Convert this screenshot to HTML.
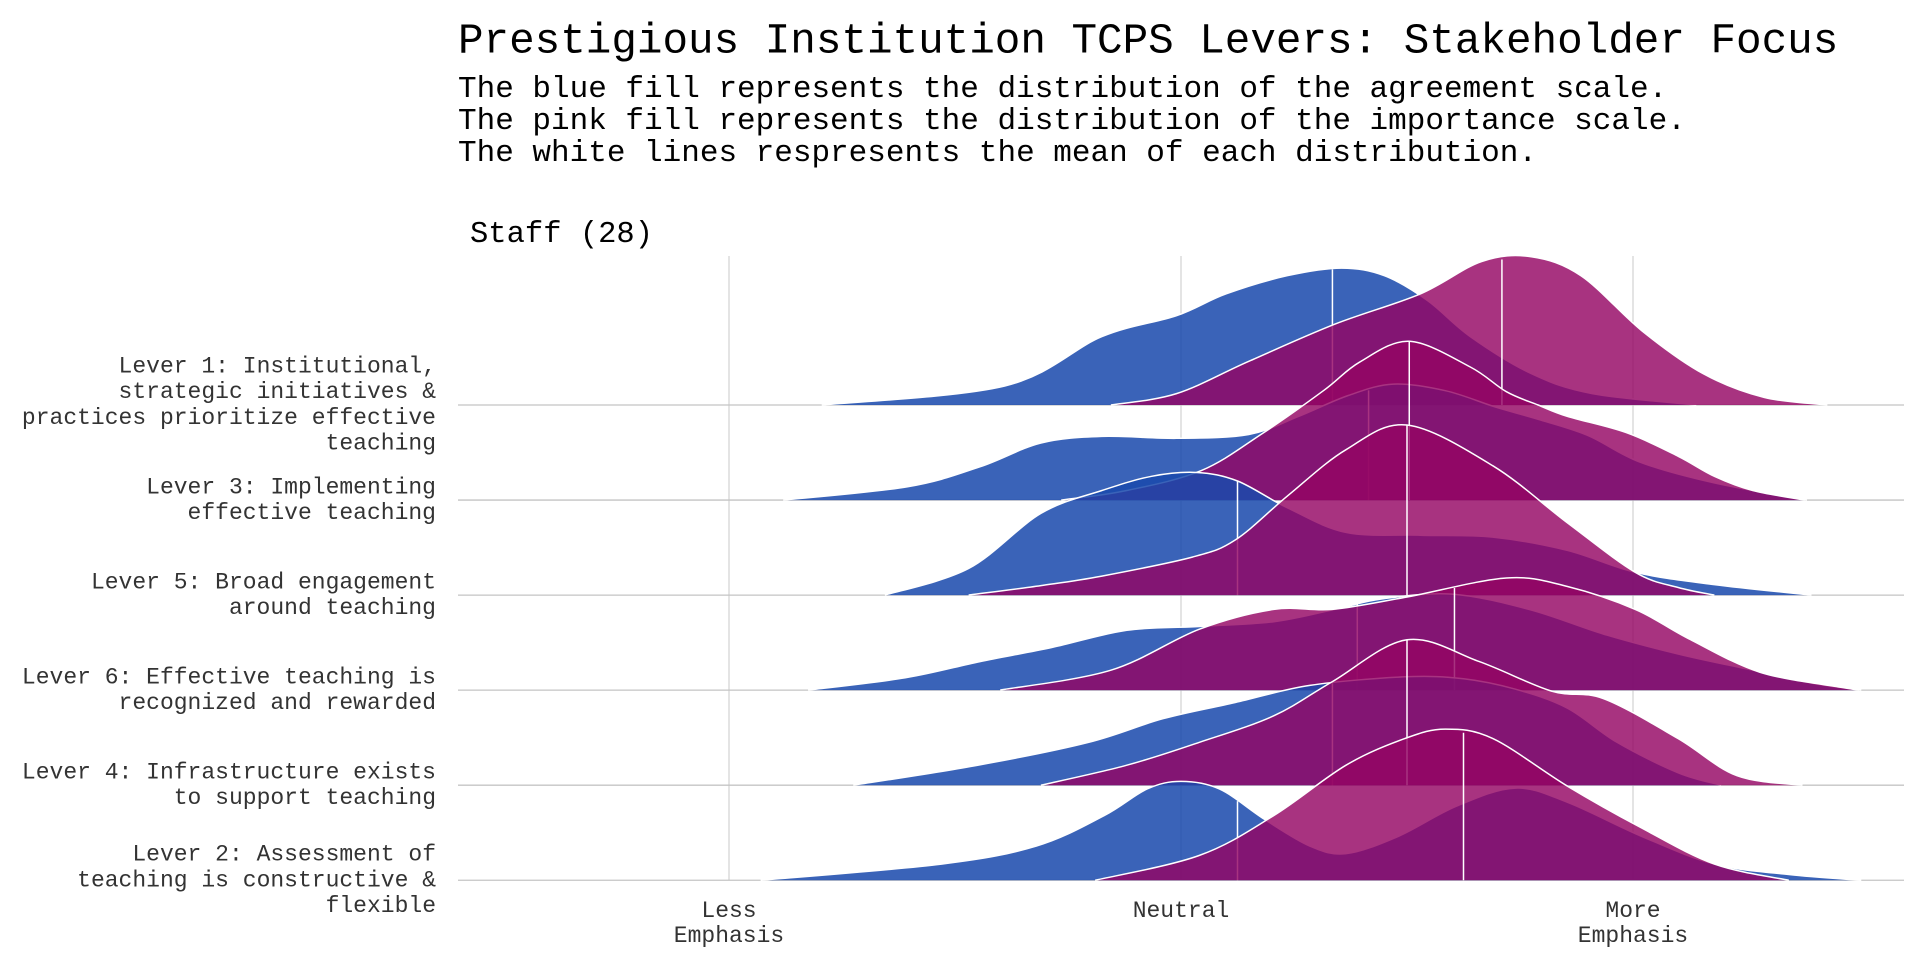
<!DOCTYPE html>
<html><head><meta charset="utf-8">
<style>
html,body{margin:0;padding:0;background:#fff;}
svg{display:block;}
text{font-family:"Liberation Mono","DejaVu Sans Mono",monospace;}
</style></head>
<body>
<svg id="chart" width="1920" height="960" viewBox="0 0 1920 960" xmlns="http://www.w3.org/2000/svg">
<text x="458" y="41" font-size="42.6" fill="#000" dominant-baseline="middle">Prestigious Institution TCPS Levers: Stakeholder Focus</text>
<g font-size="31" fill="#000">
<text x="458" y="89" dominant-baseline="middle">The blue fill represents the distribution of the agreement scale.</text>
<text x="458" y="121" dominant-baseline="middle">The pink fill represents the distribution of the importance scale.</text>
<text x="458" y="153" dominant-baseline="middle">The white lines respresents the mean of each distribution.</text>
</g>
<text x="470" y="234" font-size="30.5" fill="#000" dominant-baseline="middle">Staff (28)</text>
<g id="grid"></g>
<g id="ridges"></g>
<g id="ylabels"></g>
<g id="xlabels"></g>
</svg>
<script>
// Categories (top to bottom)
const levers = [
 ["Lever 1: Institutional,","strategic initiatives &","practices prioritize effective","teaching"],
 ["Lever 3: Implementing","effective teaching"],
 ["Lever 5: Broad engagement","around teaching"],
 ["Lever 6: Effective teaching is","recognized and rewarded"],
 ["Lever 4: Infrastructure exists","to support teaching"],
 ["Lever 2: Assessment of","teaching is constructive &","flexible"]
];
const tickValues = [1, 3, 5];
const tickLabels = [["Less","Emphasis"],["Neutral"],["More","Emphasis"]];

// Agreement (blue) densities: x values and heights
const blueX = [
 [1.41,2.22,2.65,2.98,3.20,3.47,3.71,3.90,4.09,4.28,4.55,4.82,5.28],
 [1.24,1.79,2.11,2.38,2.65,2.98,3.30,3.52,3.74,3.94,4.17,4.39,4.58,4.80,5.03,5.36,5.77],
 [1.69,2.06,2.38,2.65,2.87,3.07,3.25,3.47,3.73,4.06,4.38,4.71,5.01,5.36,5.79],
 [1.35,1.78,2.11,2.43,2.76,3.08,3.41,3.68,3.89,4.20,4.54,4.87,5.20,5.53,5.80,6.01],
 [1.55,2.10,2.59,2.92,3.24,3.57,3.99,4.25,4.48,4.71,4.93,5.20,5.39],
 [1.14,1.94,2.36,2.66,2.85,3.00,3.17,3.37,3.57,3.73,3.96,4.22,4.48,4.71,5.04,5.36,5.69,6.01]
];
const blueY = [
 [0,0.20,0.72,0.94,1.17,1.36,1.44,1.36,1.10,0.72,0.33,0.12,0],
 [0,0.14,0.35,0.60,0.67,0.65,0.69,0.88,1.10,1.22,1.15,0.98,0.85,0.68,0.40,0.18,0],
 [0,0.28,0.86,1.10,1.25,1.29,1.20,0.92,0.66,0.63,0.61,0.47,0.24,0.11,0],
 [0,0.13,0.30,0.45,0.63,0.67,0.72,0.85,0.96,1.01,0.85,0.59,0.38,0.21,0.07,0],
 [0,0.21,0.45,0.70,0.87,1.05,1.14,1.12,1.01,0.81,0.45,0.13,0],
 [0,0.17,0.36,0.68,0.96,1.04,0.96,0.64,0.36,0.28,0.46,0.78,0.97,0.82,0.46,0.17,0.06,0]
];
// Importance (pink) densities
const pinkX = [
 [2.69,2.98,3.30,3.68,4.06,4.33,4.55,4.77,5.04,5.31,5.58,5.86],
 [2.47,2.76,3.09,3.36,3.63,3.79,4.01,4.28,4.44,4.58,4.71,4.97,5.20,5.36,5.53,5.76],
 [2.06,2.38,2.65,3.05,3.24,3.47,3.73,4.00,4.38,4.71,5.01,5.20,5.36],
 [2.20,2.69,3.08,3.41,3.67,4.00,4.44,4.71,5.01,5.24,5.56,5.92,6.00],
 [2.38,2.76,3.08,3.41,3.67,4.00,4.32,4.64,4.87,5.20,5.46,5.75],
 [2.62,3.08,3.41,3.73,3.99,4.17,4.38,4.71,5.03,5.36,5.69]
];
const pinkY = [
 [0,0.12,0.46,0.85,1.17,1.51,1.56,1.36,0.78,0.33,0.08,0],
 [0,0.10,0.31,0.70,1.15,1.45,1.67,1.40,1.14,1.00,0.88,0.71,0.46,0.25,0.10,0],
 [0,0.10,0.20,0.40,0.58,1.04,1.53,1.79,1.36,0.76,0.24,0.08,0],
 [0,0.21,0.64,0.85,0.85,0.98,1.18,1.09,0.85,0.55,0.19,0.03,0],
 [0,0.21,0.45,0.73,1.09,1.53,1.30,0.99,0.91,0.49,0.10,0],
 [0,0.26,0.68,1.21,1.49,1.59,1.49,0.99,0.56,0.17,0]
];
// Means
const blueMean = [3.67, 3.83, 3.25, 3.78, 3.67, 3.25];
const pinkMean = [4.42, 4.01, 4.00, 4.21, 4.00, 4.25];

const NS = "http://www.w3.org/2000/svg";
const X0 = 729, XPER = 226;
const xScale = v => X0 + (v - 1) * XPER;
const BASE0 = 405, STEP = 95.05;
const baseY = i => BASE0 + i * STEP;
const hScale = h => h * STEP;
const PLOT_L = 458, PLOT_R = 1904, PLOT_T = 256;

function mk(tag, attrs, parent) {
  const e = document.createElementNS(NS, tag);
  for (const k in attrs) e.setAttribute(k, attrs[k]);
  parent.appendChild(e);
  return e;
}
function interp(xs, ys, v) {
  if (v <= xs[0]) return ys[0];
  for (let i = 1; i < xs.length; i++) {
    if (v <= xs[i]) {
      const t = (v - xs[i-1]) / (xs[i] - xs[i-1]);
      return ys[i-1] + (ys[i] - ys[i-1]) * t;
    }
  }
  return ys[ys.length-1];
}
function curvePath(xs, ys, b) {
  const pts = xs.map((v, i) => [xScale(v), b - hScale(ys[i])]);
  let d = "M" + pts[0][0].toFixed(1) + "," + pts[0][1].toFixed(1);
  for (let i = 0; i < pts.length - 1; i++) {
    const p0 = pts[Math.max(0, i-1)], p1 = pts[i], p2 = pts[i+1], p3 = pts[Math.min(pts.length-1, i+2)];
    let c1x = p1[0] + (p2[0]-p0[0])/6, c1y = p1[1] + (p2[1]-p0[1])/6;
    let c2x = p2[0] - (p3[0]-p1[0])/6, c2y = p2[1] - (p3[1]-p1[1])/6;
    c1y = Math.min(c1y, b); c2y = Math.min(c2y, b);
    d += " C" + c1x.toFixed(1) + "," + c1y.toFixed(1) + " " + c2x.toFixed(1) + "," + c2y.toFixed(1) + " " + p2[0].toFixed(1) + "," + p2[1].toFixed(1);
  }
  return d;
}

const grid = document.getElementById("grid");
tickValues.forEach((v, i) => {
  const l = mk("line", {x1: xScale(v), x2: xScale(v), y1: PLOT_T, y2: baseY(5), stroke: "#c8c8c8", "stroke-width": 1}, grid);
  
  
});
levers.forEach((lv, i) => {
  const l = mk("line", {x1: PLOT_L, x2: PLOT_R, y1: baseY(i), y2: baseY(i), stroke: "#c4c4c4", "stroke-width": 1.3}, grid);
  
  
});

const ridges = document.getElementById("ridges");
levers.forEach((lv, i) => {
  const b = baseY(i);
  const g = mk("g", {}, ridges);
  
  
  const bc = curvePath(blueX[i], blueY[i], b);
  const bp = mk("path", {d: bc + " Z", fill: "rgb(26,73,172)", "fill-opacity": 0.86, stroke: "none"}, g);
  
  
  const bo = mk("path", {d: bc, fill: "none", stroke: "#fff", "stroke-width": 1.5}, g);
  
  
  const bm = mk("line", {x1: xScale(blueMean[i]), x2: xScale(blueMean[i]), y1: b, y2: b - hScale(interp(blueX[i], blueY[i], blueMean[i])), stroke: "#fff", "stroke-width": 1.5}, g);
  
  
  const pc = curvePath(pinkX[i], pinkY[i], b);
  const pp = mk("path", {d: pc + " Z", fill: "rgb(148,4,98)", "fill-opacity": 0.81, stroke: "none"}, g);
  
  
  const po = mk("path", {d: pc, fill: "none", stroke: "#fff", "stroke-width": 1.5}, g);
  
  
  const pm = mk("line", {x1: xScale(pinkMean[i]), x2: xScale(pinkMean[i]), y1: b, y2: b - hScale(interp(pinkX[i], pinkY[i], pinkMean[i])), stroke: "#fff", "stroke-width": 1.5}, g);
  
  
});

const yl = document.getElementById("ylabels");
levers.forEach((lines, i) => {
  const t = mk("text", {x: 436, "text-anchor": "end", "font-size": 23, fill: "#333"}, yl);
  
  
  lines.forEach((s, j) => {
    const ts = mk("tspan", {x: 436, y: baseY(i) + (j - (lines.length - 1) / 2) * 25.7, "dominant-baseline": "middle"}, t);
    ts.textContent = s;
  });
});
const xl = document.getElementById("xlabels");
tickValues.forEach((v, i) => {
  const t = mk("text", {x: xScale(v), "text-anchor": "middle", "font-size": 23, fill: "#333"}, xl);
  
  
  tickLabels[i].forEach((s, j) => {
    const ts = mk("tspan", {x: xScale(v), y: 911 + j * 25, "dominant-baseline": "middle"}, t);
    ts.textContent = s;
  });
});
</script>
</body></html>
